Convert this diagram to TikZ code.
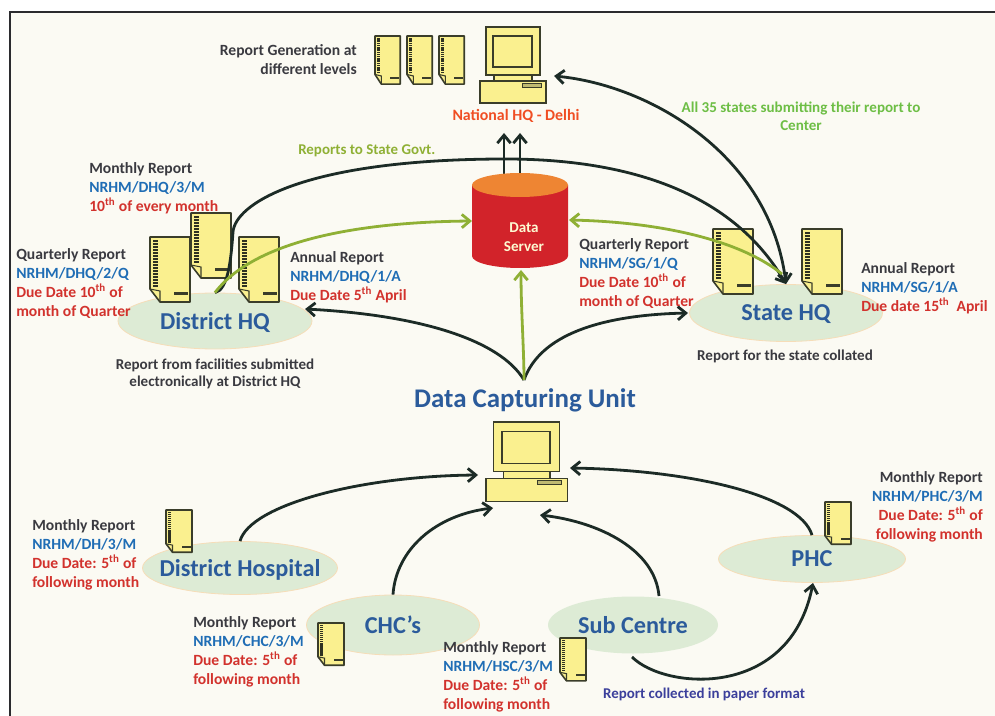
\documentclass[tikz,border=0pt]{standalone}
\usepackage{fontspec}
\setmainfont{Carlito}
\usetikzlibrary{positioning,shapes.geometric,arrows.meta}
\definecolor{pagebg}{HTML}{FBFAF3}
\definecolor{framecol}{HTML}{2B2B2E}
\definecolor{arrowblk}{HTML}{1C2B26}
\definecolor{arrowgrn}{HTML}{8FB035}
\definecolor{rptdark}{HTML}{3A3A40}
\definecolor{rptblue}{HTML}{1F6DB5}
\definecolor{rptred}{HTML}{D2322D}
\definecolor{natred}{HTML}{F04E23}
\definecolor{hqblue}{HTML}{2B5B9B}
\definecolor{hqfill}{HTML}{DDEBD5}
\definecolor{hqline}{HTML}{F6DDB8}
\definecolor{iconfill}{HTML}{FAF08F}
\definecolor{iconline}{HTML}{3A3D2A}
\definecolor{srvred}{HTML}{D2232A}
\definecolor{srvorange}{HTML}{EE8533}
\definecolor{allgreen}{HTML}{6DBE45}
\definecolor{paperblue}{HTML}{3B3F9B}
\newcommand{\rd}[1]{\textcolor{rptdark}{#1}}
\newcommand{\rb}[1]{\textcolor{rptblue}{#1}}
\newcommand{\rr}[1]{\textcolor{rptred}{#1}}
\newcommand{\thword}{\textsuperscript{th}}
\tikzset{
	pics/reportdoc/.style={code={
		\draw[fill=iconfill,draw=iconline,line width=1.2pt,line join=round] (0,0) -- (40,0) -- (40,65) -- (10,65) -- (0,52) -- cycle;
		\draw[iconline,line width=.8pt] (0,52) -- (10,54) -- (10,65);
		\foreach \ty in {3,6,...,48}
			\fill[iconline!80!black] (3,\ty) rectangle (8,\ty+2);
		\fill[iconline] (24,55) rectangle (38,58);
	}},
	pics/desktoppc/.style={code={
		\draw[fill=iconfill,draw=iconline,line width=.8pt] (14,48) rectangle (52,54);
		\draw[fill=iconfill,draw=iconline,line width=.8pt] (6,0) rectangle (60,48);
		\draw[fill=iconfill,draw=iconline,line width=.9pt] (13,9) rectangle (52,40);
		\draw[fill=iconfill,draw=iconline,line width=.8pt] (0,54) rectangle (66,76);
		\draw[fill=iconfill!70!iconline,draw=iconline,line width=.5pt] (42,56) rectangle (61,60);
	}}
}
\begin{document}
\begin{tikzpicture}[
		x=.75pt,y=-.75pt,
		hqnode/.style={draw=hqline,fill=hqfill,ellipse,inner sep=-18pt,text depth=0pt,line width=.6pt,text=hqblue,font=\bfseries\fontsize{18.2}{20}\selectfont},
		rptlabel/.style={inner sep=0pt,anchor=north west,align=left,font=\bfseries\fontsize{11.7}{14.2}\selectfont},
		rptlabelr/.style={rptlabel,anchor=north east,align=right},
		notelabel/.style={inner sep=0pt,align=center,text=rptdark,font=\bfseries\fontsize{11.3}{13.2}\selectfont},
		blkarrow/.style={draw=arrowblk,line width=2.1pt,{Straight Barb[length=6pt,width=10pt]}-{Straight Barb[length=6pt,width=10pt]}},
		blkline/.style={draw=arrowblk,line width=2.1pt,-{Straight Barb[length=6pt,width=10pt]}},
		grnline/.style={draw=arrowgrn,line width=2.1pt,-{Straight Barb[length=6pt,width=10pt]}}
	]
	\useasboundingbox (0,0) rectangle (995,716);
	\fill[pagebg] (10,12) rectangle (995,716);
	\draw[framecol,line width=2.2pt] (10,716) -- (10,12) -- (995,12);

	\node[hqnode,minimum width=145.5pt,minimum height=42pt] (dhq) at (215,321) {District HQ};
	\node[hqnode,minimum width=144.75pt,minimum height=42.75pt] (shq) at (786,313) {State HQ};
	\node[hqnode,minimum width=146.25pt,minimum height=39.75pt] (dhsp) at (240,568) {District Hospital};
	\node[hqnode,minimum width=129.75pt,minimum height=45pt] (chc) at (393,625) {CHC’s};
	\node[hqnode,draw=none,minimum width=127.5pt,minimum height=42.75pt] (sub) at (633,625) {Sub Centre};
	\node[hqnode,minimum width=140.25pt,minimum height=35.25pt] (phc) at (812,559) {PHC};

	\pic at (375,36) [xscale=.63,yscale=.74] {reportdoc};
	\pic at (407,36) [xscale=.63,yscale=.74] {reportdoc};
	\pic at (439,36) [xscale=.63,yscale=.74] {reportdoc};
	\pic at (150,237) {reportdoc};
	\pic at (191,213) {reportdoc};
	\pic at (239,237) {reportdoc};
	\pic at (713,229) {reportdoc};
	\pic at (802,229) {reportdoc};
	\pic at (166,510) [xscale=.65,yscale=.65] {reportdoc};
	\pic at (318,623) [xscale=.65,yscale=.65] {reportdoc};
	\pic at (560,638) [xscale=.65,yscale=.66] {reportdoc};
	\pic at (825,502) [xscale=.65,yscale=.65] {reportdoc};
	\pic at (480,27) {desktoppc};
	\pic at (486,422) [xscale=1.23,yscale=1.04] {desktoppc};

	\coordinate (nhqin) at (554,76);
	\coordinate (nhqup1) at (504,133);
	\coordinate (nhqup2) at (520,133);
	\coordinate (srvtop1) at (504,176);
	\coordinate (srvtop2) at (520,176);
	\coordinate (srvleft) at (472,221);
	\coordinate (srvright) at (569,220);
	\coordinate (srvbot) at (521,270);
	\coordinate (shqgrn) at (782,274);
	\coordinate (dhqin) at (305,309);
	\coordinate (shqin) at (688,313);
	\coordinate (dcutop) at (524,380);
	\coordinate (dcuin1) at (478,475);
	\coordinate (dcuin2) at (493,508);
	\coordinate (dcuin3) at (540,515);
	\coordinate (dcuin4) at (570,468);
	\coordinate (subout) at (659,596);
	\coordinate (subbot) at (632,657);
	\coordinate (phcbot) at (813,583);

	\draw[blkline] (srvtop1) -- (nhqup1);
	\draw[blkline] (srvtop2) -- (nhqup2);
	\draw[blkline] (dhq.north) .. controls (228,290) and (231,260) .. (233,232) .. controls (235,205) and (300,160) .. (500,159) .. controls (650,158) and (740,205) .. (shq.north);
	\draw[blkarrow] (nhqin) .. controls (650,85) and (770,155) .. (shq.north);

	\fill[srvred] (472,185) -- (472,256) arc[start angle=180,end angle=360,x radius=36pt,y radius=9pt] -- (568,185) -- cycle;
	\fill[srvorange] (520,185) ellipse [x radius=36pt,y radius=9pt];
	\node[inner sep=0pt,align=center,text=iconfill!40!white,font=\bfseries\fontsize{11.3}{14.5}\selectfont] (dsrvtxt) at (524,237) {Data\\Server};

	\draw[grnline] (dhq.north) .. controls (255,240) and (360,222) .. (srvleft);
	\draw[grnline] (shqgrn) .. controls (740,240) and (660,222) .. (srvright);
	\draw[blkline] (dcutop) .. controls (500,340) and (420,315) .. (dhqin);
	\draw[blkline] (dcutop) .. controls (540,335) and (600,315) .. (shqin);
	\draw[grnline] (dcutop) .. controls (524,350) and (521,310) .. (srvbot);
	\draw[blkline] (dhsp.north) .. controls (250,505) and (360,476) .. (dcuin1);
	\draw[blkline] (chc.north) .. controls (396,550) and (435,515) .. (dcuin2);
	\draw[blkline] (subout) .. controls (655,550) and (600,522) .. (dcuin3);
	\draw[blkline] (phc.north) .. controls (800,495) and (690,470) .. (dcuin4);
	\draw[blkline] (subbot) .. controls (665,690) and (790,700) .. (phcbot);

	\node[rptlabelr,text=rptdark] (gentxt) at (357,44) {Report Generation at\\different levels};
	\node[inner sep=0pt,text=natred,font=\bfseries\fontsize{11.9}{14.2}\selectfont] (nhqtxt) at (516,116) {National HQ - Delhi};
	\node[inner sep=0pt,anchor=west,text=arrowgrn,font=\bfseries\fontsize{11.2}{13}\selectfont] (govtxt) at (298,151) {Reports to State Govt.};
	\node[inner sep=0pt,align=center,text=allgreen,font=\bfseries\fontsize{11.3}{13.5}\selectfont] (alltxt) at (801,116) {All 35 states submitting their report to\\Center};
	\node[rptlabel] (dhqm) at (89,162) {\rd{Monthly Report}\\\rb{NRHM/DHQ/3/M}\\\rr{10\thword{} of every month}};
	\node[rptlabel] (dhqq) at (16,248) {\rd{Quarterly Report}\\\rb{NRHM/DHQ/2/Q}\\\rr{Due Date 10\thword{} of}\\\rr{month of Quarter}};
	\node[rptlabel] (dhqa) at (290,251) {\rd{Annual Report}\\\rb{NRHM/DHQ/1/A}\\\rr{Due Date 5\thword{} April}};
	\node[rptlabel] (shqq) at (579,238) {\rd{Quarterly Report}\\\rb{NRHM/SG/1/Q}\\\rr{Due Date 10\thword{} of}\\\rr{month of Quarter}};
	\node[rptlabel] (shqa) at (861,262) {\rd{Annual Report}\\\rb{NRHM/SG/1/A}\\\rr{Due date 15\thword{}~ April}};
	\node[notelabel] (dhqnote) at (215,374) {Report from facilities submitted\\electronically at District HQ};
	\node[notelabel] (shqnote) at (785,356) {Report for the state collated};
	\node[inner sep=0pt,text=hqblue,font=\bfseries\fontsize{20.2}{22}\selectfont] (dcutxt) at (525,400) {Data Capturing Unit};
	\node[rptlabel] (dhspm) at (32,519) {\rd{Monthly Report}\\\rb{NRHM/DH/3/M}\\\rr{Due Date: 5\thword{} of}\\\rr{following month}};
	\node[rptlabel] (chcm) at (193,616) {\rd{Monthly Report}\\\rb{NRHM/CHC/3/M}\\\rr{Due Date: 5\thword{} of}\\\rr{following month}};
	\node[rptlabel] (subm) at (443,641) {\rd{Monthly Report}\\\rb{NRHM/HSC/3/M}\\\rr{Due Date: 5\thword{} of}\\\rr{following month}};
	\node[rptlabelr] (phcm) at (983,471) {\rd{Monthly Report}\\\rb{NRHM/PHC/3/M}\\\rr{Due Date: 5\thword{} of}\\\rr{following month}};
	\node[inner sep=0pt,text=paperblue,font=\bfseries\fontsize{11.2}{13}\selectfont] (papertxt) at (704,694) {Report collected in paper format};
\end{tikzpicture}
\end{document}
